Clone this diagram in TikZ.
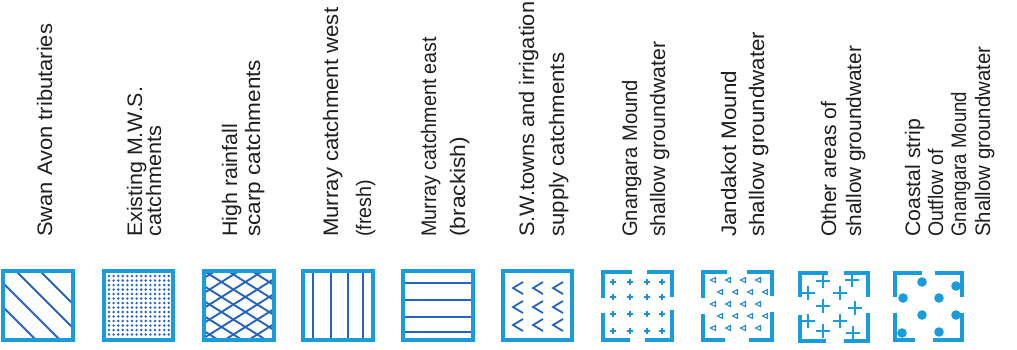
\documentclass[tikz,border=0pt]{standalone}
\usepackage{fontspec}
\usepackage{graphicx}
\setmainfont{Liberation Sans}
\definecolor{legblue}{RGB}{25,155,220}
\definecolor{legdark}{RGB}{35,100,190}
\definecolor{txtcol}{RGB}{30,30,30}
\newcommand{\fitw}[2]{\resizebox{#1pt}{\height}{#2}}
\begin{document}
\begin{tikzpicture}[x=1pt,y=-1pt,
  lab/.style={rotate=90,anchor=base west,inner sep=0pt,text=txtcol,font=\fontsize{21}{25}\selectfont},
  frame/.style={draw=legblue,line width=4pt},
  bframe/.style={draw=legblue,line width=3.6pt},
  hatch/.style={draw=legdark,line width=1.9pt},
  thin/.style={draw=legdark,line width=1.6pt},
]
\useasboundingbox (0,0) rectangle (1017,349);
\clip (0,0) rectangle (1017,349);

% ---------- labels ----------
\node[lab] (t1)  at (52,237)  {\fitw{213}{Swan Avon tributaries}};
\node[lab] (t2a) at (142,237) {\fitw{150}{Existing M.W.S.}};
\node[lab] (t2b) at (161,237) {\fitw{111}{catchments}};
\node[lab] (t3a) at (237,237) {\fitw{113}{High rainfall}};
\node[lab] (t3b) at (260,237) {\fitw{177}{scarp catchments}};
\node[lab] (t4a) at (338,237) {\fitw{229}{Murray catchment west}};
\node[lab] (t4b) at (371,237) {\fitw{57}{(fresh)}};
\node[lab] (t5a) at (436,237) {\fitw{200}{Murray catchment east}};
\node[lab] (t5b) at (465,237) {\fitw{100}{(brackish)}};
\node[lab] (t6a) at (534,237) {\fitw{235}{S.W.towns and irrigation}};
\node[lab] (t6b) at (564,237) {\fitw{184}{supply catchments}};
\node[lab] (t7a) at (637,237) {\fitw{157}{Gnangara Mound}};
\node[lab] (t7b) at (665,237) {\fitw{195}{shallow groundwater}};
\node[lab] (t8a) at (736,237) {\fitw{166}{Jandakot Mound}};
\node[lab] (t8b) at (764,237) {\fitw{205}{shallow groundwater}};
\node[lab] (t9a) at (836,237) {\fitw{135}{Other areas of}};
\node[lab] (t9b) at (861,237) {\fitw{191}{shallow groundwater}};
\node[lab] (t10a) at (920,237) {\fitw{118}{Coastal strip}};
\node[lab] (t10b) at (943,237) {\fitw{88}{Outflow of}};
\node[lab] (t10c) at (966,237) {\fitw{145}{Gnangara Mound}};
\node[lab] (t10d) at (990,237) {\fitw{190}{Shallow groundwater}};

% ---------- swatch 1: diagonal hatch ----------
\begin{scope}[shift={(3,271)}]
  \begin{scope}
    \clip (0,0) rectangle (70,69);
    \foreach \c in {37,13,-12,-36} \draw[hatch] (\c,0) -- ++(90,90);
  \end{scope}
  \draw[frame] (0,0) rectangle (70,69);
\end{scope}

% ---------- swatch 2: dot grid ----------
\begin{scope}[shift={(104,271)}]
  \foreach \i in {0,...,13}
    \foreach \j in {0,...,13}
      \fill[legdark] (5+\i*4.6,5+\j*4.5) circle (1.35);
  \draw[frame] (0,0) rectangle (69,69);
\end{scope}

% ---------- swatch 3: cross hatch ----------
\begin{scope}[shift={(204,271)}]
  \begin{scope}
    \clip (0,0) rectangle (70,69);
    \foreach \k in {-5,...,6} {
      \draw[hatch] (0,\k*15) -- (70,\k*15+44);
      \draw[hatch] (0,\k*15+7) -- (70,\k*15+7-44);
    }
  \end{scope}
  \draw[frame] (0,0) rectangle (70,69);
\end{scope}

% ---------- swatch 4: vertical lines ----------
\begin{scope}[shift={(303,271)}]
  \foreach \x in {10,28,45,60} \draw[thin] (\x,0) -- (\x,69);
  \draw[frame] (0,0) rectangle (70,69);
\end{scope}

% ---------- swatch 5: horizontal lines ----------
\begin{scope}[shift={(403,271)}]
  \foreach \y in {12,29,46,61} \draw[thin] (0,\y) -- (70,\y);
  \draw[frame] (0,0) rectangle (70,69);
\end{scope}

% ---------- swatch 6: chevrons ----------
\begin{scope}[shift={(503,271)}]
  \foreach \cx in {15,35,55}
    \foreach \cy in {17,36,54}
      \draw[thin,line width=1.8pt] (\cx+5,\cy-6) -- (\cx-5,\cy) -- (\cx+5,\cy+6);
  \draw[frame] (0,0) rectangle (69,69);
\end{scope}

% ---------- swatch 7: small plus signs, broken frame ----------
\begin{scope}[shift={(603,272)}]
  \foreach \px in {10,27,44,59}
    \foreach \py in {10,25,42,59}
      \draw[legblue!80!legdark,line width=1.5pt] (\px-3,\py) -- (\px+3,\py) (\px,\py-3) -- (\px,\py+3);
  \draw[bframe] (29,0) -| (0,26);
  \draw[bframe] (44,0) -| (69,25);
  \draw[bframe] (0,41) |- (27,68);
  \draw[bframe] (69,38) |- (42,68);
\end{scope}

% ---------- swatch 8: small triangles, broken frame ----------
\begin{scope}[shift={(703,272)}]
  \foreach \py/\off in {8/0,20/7,32/0,44/7,56/0}
    \foreach \px in {10,25,40,55}
      \draw[legblue!70!legdark,line width=1.1pt] (\px+\off+2.5,\py-2.5) -- (\px+\off-2.5,\py) -- (\px+\off+2.5,\py+2.5) -- cycle;
  \draw[bframe] (24,0) -| (0,26);
  \draw[bframe] (44,0) -| (69,24);
  \draw[bframe] (0,42) |- (22,68);
  \draw[bframe] (69,40) |- (46,68);
\end{scope}

% ---------- swatch 9: large plus signs, broken frame ----------
\begin{scope}[shift={(800,273)}]
  \foreach \px/\py in {23/8,52/7,8/20,40/20,23/33,55/35,8/48,40/48,23/58,53/60}
    \draw[legblue,line width=2.3pt] (\px-7,\py) -- (\px+7,\py) (\px,\py-7) -- (\px,\py+7);
  \draw[bframe] (28,0) -| (0,24);
  \draw[bframe] (44,0) -| (68,24);
  \draw[bframe] (0,42) |- (26,68);
  \draw[bframe] (68,40) |- (44,68);
\end{scope}

% ---------- swatch 10: large dots, broken frame ----------
\begin{scope}[shift={(895,273)}]
  \foreach \px/\py in {27/9,8/25,44/25,61/13,27/42,61/42,7/60,44/59}
    \fill[legblue] (\px,\py) circle (4.8);
  \draw[bframe] (27,0) -| (0,24);
  \draw[bframe] (40,0) -| (67,24);
  \draw[bframe] (0,40) |- (20,67);
  \draw[bframe] (67,40) |- (38,67);
\end{scope}
\end{tikzpicture}
\end{document}
